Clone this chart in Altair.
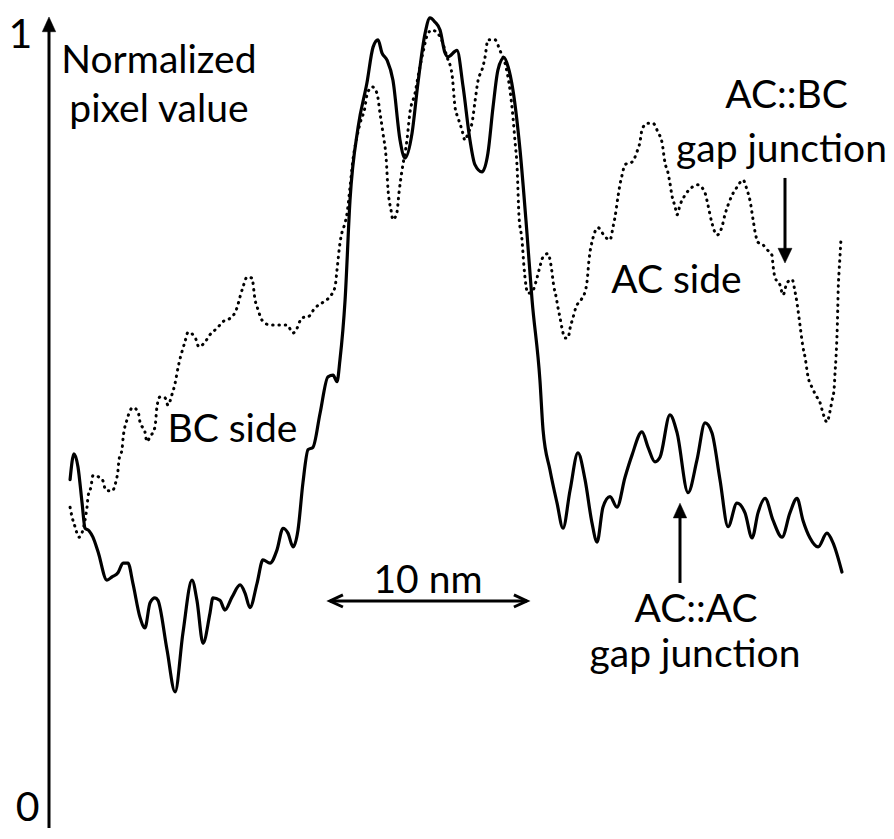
import altair as alt
import pandas as pd

# ---- profile data (x: position in nm from the axis, y: normalized pixel value) ----
solid_x = [1.07, 1.27, 1.47, 1.68, 1.83, 2.03, 2.23, 2.49, 2.94, 3.20, 3.50, 3.76, 4.01, 4.26, 4.62,
           4.87, 5.13, 5.38, 5.53, 5.99, 6.40, 6.80, 7.26, 7.51, 7.82, 8.17, 8.32, 8.68, 8.93, 9.29,
           9.70, 9.95, 10.20, 10.56, 10.86, 11.22, 11.57, 11.88, 12.13, 12.39, 12.64, 12.89, 13.15,
           13.40, 13.76, 14.16, 14.42, 14.62, 14.77, 15.03, 15.28, 15.69, 16.14, 16.45, 16.70, 16.90,
           17.16, 17.46, 17.82, 18.07, 18.43, 18.73, 19.09, 19.34, 19.59, 19.85, 20.10, 20.25, 20.71,
           21.02, 21.37, 21.62, 21.98, 22.28, 22.54, 22.79, 23.10, 23.30, 23.55, 23.91, 24.26, 24.52,
           24.92, 25.08, 25.43, 25.79, 26.09, 26.45, 26.85, 27.21, 27.56, 27.82, 28.12, 28.48, 28.83,
           29.24, 29.59, 30.10, 30.41, 30.76, 31.02, 31.52, 31.88, 32.44, 32.89, 33.30, 33.65, 34.06,
           34.47, 34.92, 35.33, 35.69, 35.99, 36.35, 36.75, 37.21, 37.61, 37.97, 38.27, 38.63, 39.04,
           39.49, 39.80, 40.25]
solid_y = [0.430, 0.462, 0.446, 0.401, 0.370, 0.367, 0.359, 0.341, 0.306, 0.310, 0.315, 0.327, 0.327,
           0.302, 0.260, 0.247, 0.278, 0.284, 0.281, 0.220, 0.168, 0.241, 0.306, 0.281, 0.228, 0.265,
           0.284, 0.281, 0.269, 0.285, 0.300, 0.290, 0.272, 0.302, 0.331, 0.327, 0.343, 0.370, 0.364,
           0.347, 0.368, 0.426, 0.467, 0.470, 0.512, 0.557, 0.559, 0.551, 0.578, 0.652, 0.775, 0.865,
           0.920, 0.964, 0.973, 0.957, 0.948, 0.923, 0.849, 0.827, 0.858, 0.920, 0.981, 1.000, 0.995,
           0.985, 0.957, 0.952, 0.960, 0.915, 0.849, 0.819, 0.810, 0.833, 0.890, 0.936, 0.951, 0.940,
           0.911, 0.837, 0.735, 0.652, 0.553, 0.491, 0.442, 0.401, 0.370, 0.417, 0.463, 0.430, 0.377,
           0.353, 0.396, 0.409, 0.396, 0.433, 0.460, 0.489, 0.470, 0.452, 0.458, 0.510, 0.488, 0.414,
           0.454, 0.500, 0.488, 0.430, 0.372, 0.401, 0.389, 0.358, 0.389, 0.407, 0.380, 0.359, 0.389,
           0.407, 0.380, 0.358, 0.347, 0.364, 0.352, 0.316]

dotted_x = [1.07, 1.17, 1.32, 1.52, 1.93, 1.98, 2.13, 2.23, 2.69, 2.89, 3.20, 3.40, 3.50, 3.55, 3.71,
            3.76, 3.96, 4.26, 4.52, 4.62, 4.87, 4.97, 5.13, 5.38, 5.48, 5.63, 5.89, 6.04, 6.24, 6.40,
            6.50, 6.60, 6.75, 6.90, 7.06, 7.41, 7.61, 7.92, 8.17, 8.53, 8.83, 9.29, 9.54, 9.70, 9.85,
            10.05, 10.30, 10.46, 10.61, 10.81, 11.22, 11.62, 12.08, 12.39, 12.59, 12.84, 13.15, 13.50,
            13.91, 14.26, 14.52, 14.62, 14.77, 14.87, 15.03, 15.13, 15.28, 15.43, 15.63, 15.79, 16.04,
            16.14, 16.40, 16.65, 16.80, 16.95, 17.11, 17.21, 17.36, 17.46, 17.66, 17.77, 17.92, 18.17,
            18.32, 18.58, 18.73, 18.98, 19.24, 19.44, 19.85, 20.20, 20.46, 20.61, 20.76, 20.96, 21.12,
            21.27, 21.47, 21.62, 21.78, 21.98, 22.13, 22.28, 22.64, 22.89, 23.15, 23.40, 23.55, 23.65,
            23.76, 23.86, 24.01, 24.11, 24.31, 24.57, 24.77, 24.92, 25.08, 25.33, 25.48, 25.63, 25.74,
            25.84, 25.94, 26.04, 26.19, 26.35, 26.45, 26.60, 26.75, 27.01, 27.21, 27.31, 27.41, 27.61,
            27.87, 28.22, 28.48, 28.63, 28.73, 28.88, 28.98, 29.09, 29.24, 29.59, 29.85, 30.00, 30.10,
            30.36, 30.66, 30.91, 31.12, 31.27, 31.42, 31.52, 31.62, 31.78, 31.88, 32.03, 32.28, 32.64,
            32.94, 33.30, 33.45, 33.65, 33.91, 34.16, 34.31, 34.47, 34.67, 34.92, 35.23, 35.43, 35.58,
            35.74, 35.84, 35.99, 36.24, 36.45, 36.70, 36.75, 36.85, 37.11, 37.26, 37.46, 37.72, 37.87,
            37.97, 38.12, 38.27, 38.38, 38.53, 38.73, 38.98, 39.14, 39.29, 39.49, 39.64, 39.75, 39.85,
            39.90, 39.95, 39.99, 40.02, 40.04, 40.06, 40.10, 40.15, 40.20]
dotted_y = [0.396, 0.384, 0.372, 0.359, 0.396, 0.409, 0.421, 0.435, 0.431, 0.417, 0.416, 0.428, 0.441,
            0.454, 0.468, 0.481, 0.504, 0.519, 0.514, 0.501, 0.489, 0.477, 0.483, 0.495, 0.520, 0.532,
            0.531, 0.522, 0.535, 0.549, 0.562, 0.574, 0.588, 0.600, 0.612, 0.606, 0.594, 0.600, 0.609,
            0.617, 0.625, 0.631, 0.642, 0.656, 0.668, 0.680, 0.679, 0.652, 0.640, 0.627, 0.621, 0.621,
            0.621, 0.611, 0.617, 0.630, 0.631, 0.642, 0.649, 0.656, 0.668, 0.689, 0.722, 0.735, 0.747,
            0.759, 0.791, 0.825, 0.853, 0.870, 0.890, 0.905, 0.915, 0.907, 0.883, 0.858, 0.828, 0.788,
            0.763, 0.751, 0.760, 0.785, 0.812, 0.849, 0.883, 0.907, 0.927, 0.957, 0.981, 0.985, 0.977,
            0.952, 0.930, 0.890, 0.877, 0.862, 0.849, 0.858, 0.870, 0.896, 0.923, 0.936, 0.951, 0.973,
            0.973, 0.960, 0.944, 0.911, 0.878, 0.849, 0.816, 0.754, 0.726, 0.693, 0.660, 0.664, 0.679,
            0.693, 0.705, 0.709, 0.695, 0.668, 0.656, 0.642, 0.630, 0.617, 0.605, 0.605, 0.617, 0.630,
            0.643, 0.652, 0.662, 0.674, 0.701, 0.728, 0.741, 0.730, 0.726, 0.742, 0.754, 0.779, 0.794,
            0.806, 0.819, 0.822, 0.835, 0.847, 0.862, 0.870, 0.870, 0.859, 0.846, 0.821, 0.809, 0.796,
            0.781, 0.767, 0.757, 0.769, 0.781, 0.791, 0.794, 0.784, 0.769, 0.747, 0.732, 0.742, 0.757,
            0.769, 0.781, 0.791, 0.800, 0.788, 0.775, 0.751, 0.736, 0.723, 0.720, 0.714, 0.707, 0.695,
            0.680, 0.670, 0.658, 0.673, 0.677, 0.662, 0.648, 0.621, 0.594, 0.581, 0.557, 0.544, 0.532,
            0.525, 0.512, 0.501, 0.514, 0.528, 0.541, 0.562, 0.581, 0.602, 0.623, 0.643, 0.664, 0.685,
            0.705, 0.726]

# ---- annotation text ----
label_text = ["Normalized", "pixel value", "BC side", "10 nm", "AC side",
              "AC::BC", "gap junction", "AC::AC", "gap junction"]
label_x = [5.58, 5.58, 9.31, 19.24, 31.85, 37.44, 37.18, 32.84, 32.79]
label_y = [0.932, 0.872, 0.476, 0.290, 0.660, 0.889, 0.822, 0.2547, 0.199]

tick_text = ["1", "0"]
tick_x = [-1.45, -1.09]
tick_y = [0.963, 0.0086]

# ---- arrows (y axis, AC::BC pointer, AC::AC pointer) ----
shaft_x = [0.0, 37.36, 32.03]
shaft_y = [0.0, 0.8025, 0.3025]
shaft_y2 = [0.988, 0.710, 0.389]
head_up_x = [0.0, 32.03]
head_up_y = [1.0012, 0.401]
head_down_x = [37.36]
head_down_y = [0.6975]

# ---- 10 nm scale bar ----
bar_x = [14.26, 24.26]
bar_y = [0.2802, 0.2802]
chev_x = [14.92, 14.26, 14.92, 23.60, 24.26, 23.60]
chev_y = [0.2877, 0.2802, 0.2728, 0.2877, 0.2802, 0.2728]
chev_side = ["l", "l", "l", "r", "r", "r"]
chev_order = [0, 1, 2, 0, 1, 2]

XD = [-2.081, 42.487]
YD = [-0.0025, 1.0123]
FONT = "Lato"


def X(field="x"):
    return alt.X(f"{field}:Q", scale=alt.Scale(domain=XD, nice=False, zero=False), axis=None)


def Y(field="y"):
    return alt.Y(f"{field}:Q", scale=alt.Scale(domain=YD, nice=False, zero=False), axis=None)


solid = alt.Chart(pd.DataFrame({"x": solid_x, "y": solid_y})).mark_line(
    color="black", strokeWidth=3.2, interpolate="monotone", strokeJoin="round", strokeCap="round"
).encode(x=X(), y=Y())

dotted = alt.Chart(pd.DataFrame({"x": dotted_x, "y": dotted_y})).mark_line(
    color="black", strokeWidth=3, interpolate="monotone", strokeDash=[0.5, 5.8], strokeCap="round"
).encode(x=X(), y=Y())

labels = alt.Chart(pd.DataFrame({"x": label_x, "y": label_y, "t": label_text})).mark_text(
    font=FONT, fontSize=39, color="black", align="center", baseline="alphabetic"
).encode(x=X(), y=Y(), text="t:N")

ticks = alt.Chart(pd.DataFrame({"x": tick_x, "y": tick_y, "t": tick_text})).mark_text(
    font=FONT, fontSize=41, color="black", align="center", baseline="alphabetic"
).encode(x=X(), y=Y(), text="t:N")

shafts = alt.Chart(pd.DataFrame({"x": shaft_x, "y": shaft_y, "y2": shaft_y2})).mark_rule(
    color="black", strokeWidth=3
).encode(x=X(), y=Y(), y2="y2:Q")

heads_up = alt.Chart(pd.DataFrame({"x": head_up_x, "y": head_up_y})).mark_point(
    shape="M0,0L-1,2.2L1,2.2Z", filled=True, fill="black", stroke="black", strokeWidth=0.5,
    size=180, opacity=1
).encode(x=X(), y=Y())

heads_down = alt.Chart(pd.DataFrame({"x": head_down_x, "y": head_down_y})).mark_point(
    shape="M0,0L-1,-2.1L1,-2.1Z", filled=True, fill="black", stroke="black", strokeWidth=0.5,
    size=196, opacity=1
).encode(x=X(), y=Y())

bar = alt.Chart(pd.DataFrame({"x": bar_x, "y": bar_y})).mark_line(
    color="black", strokeWidth=3
).encode(x=X(), y=Y())

chev = alt.Chart(pd.DataFrame({"x": chev_x, "y": chev_y, "s": chev_side, "o": chev_order})).mark_line(
    color="black", strokeWidth=3, strokeJoin="miter", strokeCap="butt"
).encode(x=X(), y=Y(), detail="s:N", order="o:Q")

chart = alt.layer(
    dotted, solid, shafts, heads_up, heads_down, bar, chev, labels, ticks
).properties(
    width=878, height=822, padding=0, autosize=alt.AutoSizeParams(type="none")
).configure_view(stroke=None)

chart.save("out.html", embed_options={"renderer": "svg", "actions": False})
